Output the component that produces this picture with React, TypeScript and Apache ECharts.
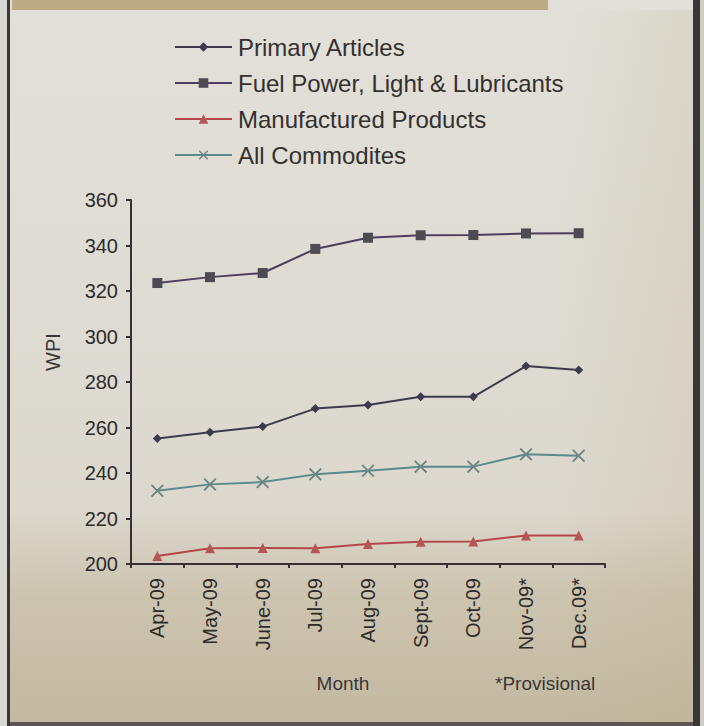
import React, { useEffect, useRef } from "react";
import * as echarts from "echarts";

const months = ["Apr-09", "May-09", "June-09", "Jul-09", "Aug-09", "Sept-09", "Oct-09", "Nov-09*", "Dec.09*"];
const primaryArticles = [255.2, 257.9, 260.4, 268.3, 269.9, 273.5, 273.5, 287.0, 285.3];
const fuelPower = [323.5, 326.1, 327.9, 338.5, 343.4, 344.5, 344.6, 345.3, 345.4];
const manufactured = [203.5, 206.9, 207.0, 206.9, 208.8, 209.8, 209.9, 212.5, 212.5];
const allCommodities = [232.2, 235.0, 236.0, 239.4, 241.0, 242.8, 242.8, 248.2, 247.6];
const seriesNames = ["Primary Articles", "Fuel Power, Light & Lubricants", "Manufactured Products", "All Commodites"];
const yTicks = { min: 200, max: 360, interval: 20 };

const FONT = "Liberation Sans, Arial, sans-serif";
const CROSS = "path://M0,1L1,0L5,4L9,0L10,1L6,5L10,9L9,10L5,6L1,10L0,9L4,5Z";

export default function App() {
  const ref = useRef<HTMLDivElement>(null);
  useEffect(() => {
    if (!ref.current) return;
    const chart = echarts.init(ref.current, null, { renderer: "svg" });
    chart.setOption({
      animation: false,
      backgroundColor: {
        type: "linear", x: 0, y: 0, x2: 0, y2: 1,
        colorStops: [
          { offset: 0, color: "#e2e0d9" },
          { offset: 0.7, color: "#dcd8ce" },
          { offset: 0.82, color: "#cdc4b0" },
          { offset: 1, color: "#c3b8a0" },
        ],
      },
      graphic: [
        { type: "rect", shape: { x: 12, y: 0, width: 536, height: 10 }, style: { fill: "#bcab87" }, silent: true },
        {
          type: "rect", shape: { x: 560, y: 10, width: 133, height: 712 },
          style: {
            fill: {
              type: "linear", x: 0, y: 0, x2: 1, y2: 0,
              colorStops: [
                { offset: 0, color: "rgba(185,170,135,0)" },
                { offset: 1, color: "rgba(185,170,135,0.18)" },
              ],
            },
          },
          silent: true,
        },
        { type: "rect", shape: { x: 0, y: 0, width: 7, height: 726 }, style: { fill: "#d9d7d1" }, silent: true },
        { type: "rect", shape: { x: 7, y: 0, width: 3, height: 726 }, style: { fill: "#3b3537" }, silent: true },
        { type: "rect", shape: { x: 693, y: 0, width: 7, height: 726 }, style: { fill: "#3a3638" }, silent: true },
        { type: "rect", shape: { x: 700, y: 0, width: 4, height: 726 }, style: { fill: "#cfccc6" }, silent: true },
        { type: "rect", shape: { x: 10, y: 722, width: 683, height: 4 }, style: { fill: "#5a5654" }, silent: true },
        {
          type: "text", x: 53, y: 352, rotation: Math.PI / 2,
          style: { text: "WPI", font: `20px ${FONT}`, fill: "#3a3636", align: "center", verticalAlign: "middle" },
        },
        {
          type: "text", x: 343, y: 683,
          style: { text: "Month", font: `19px ${FONT}`, fill: "#3a3636", align: "center", verticalAlign: "middle" },
        },
        {
          type: "text", x: 495, y: 683,
          style: { text: "*Provisional", font: `19px ${FONT}`, fill: "#3a3636", align: "left", verticalAlign: "middle" },
        },
      ],
      legend: {
        orient: "vertical",
        left: 169,
        top: 30,
        itemWidth: 57,
        itemHeight: 12,
        itemGap: 12,
        data: seriesNames,
        textStyle: { fontFamily: FONT, fontSize: 24, color: "#333030", padding: [0, 0, 0, 1] },
      },
      grid: { left: 131, right: 99, top: 200, bottom: 162, containLabel: false },
      xAxis: {
        type: "category",
        data: months,
        boundaryGap: true,
        axisLine: { lineStyle: { color: "#3a2f36", width: 2 } },
        axisTick: { show: true, length: 4, lineStyle: { color: "#3a2f36", width: 2 } },
        axisLabel: { rotate: 90, fontFamily: FONT, fontSize: 20, color: "#2e2b2b", margin: 14, interval: 0 },
      },
      yAxis: {
        type: "value",
        min: yTicks.min,
        max: yTicks.max,
        interval: yTicks.interval,
        axisLine: { show: true, lineStyle: { color: "#3a2f36", width: 2 } },
        axisTick: { show: true, length: 5, lineStyle: { color: "#3a2f36", width: 2 } },
        axisLabel: { fontFamily: FONT, fontSize: 20, color: "#2e2b2b", margin: 13 },
        splitLine: { show: false },
      },
      series: [
        {
          name: seriesNames[0], type: "line", data: primaryArticles,
          symbol: "diamond", symbolSize: 9,
          lineStyle: { color: "#3b3b4d", width: 2 },
          itemStyle: { color: "#3b3b4d" },
        },
        {
          name: seriesNames[1], type: "line", data: fuelPower,
          symbol: "rect", symbolSize: 10,
          lineStyle: { color: "#4e3d5e", width: 2 },
          itemStyle: { color: "#4d4b52" },
        },
        {
          name: seriesNames[2], type: "line", data: manufactured,
          symbol: "triangle", symbolSize: 10,
          lineStyle: { color: "#b5474a", width: 2 },
          itemStyle: { color: "#b35656" },
        },
        {
          name: seriesNames[3], type: "line", data: allCommodities,
          symbol: CROSS, symbolSize: 13,
          lineStyle: { color: "#5a8a8c", width: 2 },
          itemStyle: { color: "#6d8584" },
        },
      ],
    });
    return () => chart.dispose();
  }, []);
  return <div ref={ref} style={{ position: "fixed", left: 0, top: 0, width: 704, height: 726 }} />;
}
